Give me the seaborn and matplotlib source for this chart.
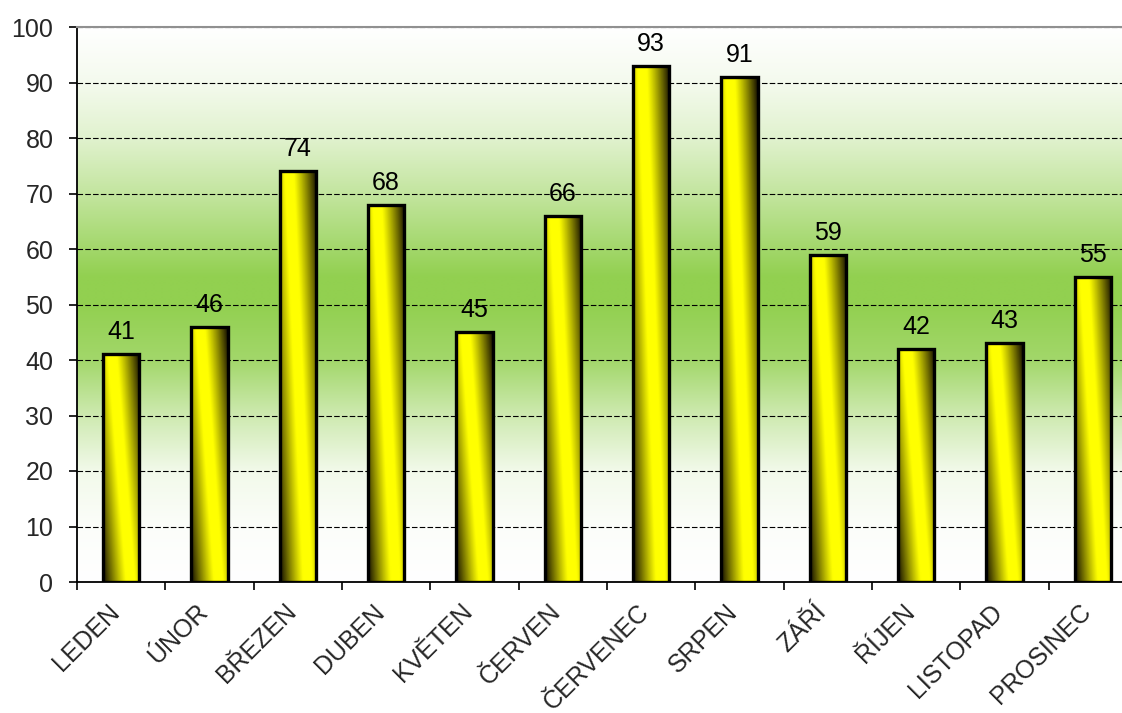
import numpy as np
import pandas as pd
import matplotlib
matplotlib.use("Agg")
import matplotlib.pyplot as plt
import matplotlib.transforms as mtransforms
import seaborn as sns
from matplotlib.colors import to_rgb

months = ["LEDEN", "ÚNOR", "BŘEZEN", "DUBEN", "KVĚTEN", "ČERVEN",
          "ČERVENEC", "SRPEN", "ZÁŘÍ", "ŘÍJEN", "LISTOPAD", "PROSINEC"]
values = [41, 46, 74, 68, 45, 66, 93, 91, 59, 42, 43, 55]
y_ticks = [0, 10, 20, 30, 40, 50, 60, 70, 80, 90, 100]

sns.set_theme(style="white")
plt.rcParams['font.family'] = ['Liberation Sans', 'DejaVu Sans']

fig = plt.figure(figsize=(11.22, 7.13), dpi=100)
ax = fig.add_axes([77/1122, 131/713, 1060/1122, 555/713])

df = pd.DataFrame({"month": months, "value": values})
sns.barplot(data=df, x="month", y="value", ax=ax, color="#ffff00",
            width=0.41, edgecolor="black", linewidth=2.4, saturation=1)

ax.set_xlim(-0.5, len(months) - 0.5)
ax.set_ylim(0, 100)

# background vertical gradient (white - green - white)
green = np.array(to_rgb("#92d050"))
white = np.array([1.0, 1.0, 1.0])
yy = np.linspace(100, 0, 400)
prof_v = [0, 10, 20, 30, 40, 50, 55, 60, 70, 80, 90, 100]
prof_a = [0.0, 0.03, 0.12, 0.45, 0.85, 1.0, 1.0, 0.85, 0.55, 0.28, 0.1, 0.0]
alpha = np.interp(yy, prof_v, prof_a)
bg = white[None, :] * (1 - alpha[:, None]) + green[None, :] * alpha[:, None]
bg = np.repeat(bg[:, None, :], 2, axis=1)
ax.imshow(bg, extent=[-0.5, len(months) - 0.5, 0, 100], aspect="auto",
          zorder=0, interpolation="bilinear")

# gridlines
ax.set_yticks(y_ticks)
ax.yaxis.grid(True, color="black", linestyle=(0, (5, 2)), linewidth=0.8)
ax.set_axisbelow(True)
for gl in ax.get_ygridlines():
    gl.set_zorder(1)

# bar gradients
yellow = np.array([1.0, 1.0, 0.0])
dark = np.array([0.12, 0.10, 0.0])
H, W = 200, 60
u = np.linspace(0, 1, W)[None, :]
v = np.linspace(0, 1, H)[:, None]
c = 0.25 + 0.5 * v
d = np.clip((np.abs(u - c) - 0.12) / 0.6, 0, 1) ** 1.1
grad = yellow[None, None, :] * (1 - d[..., None]) + dark[None, None, :] * d[..., None]
for p in ax.patches:
    x0 = p.get_x(); w = p.get_width(); h = p.get_height()
    im = ax.imshow(grad, extent=[x0, x0 + w, 0, h], aspect="auto",
                   zorder=2.5, interpolation="bilinear")
    im.set_clip_path(p)
    p.set_facecolor("none")
    p.set_zorder(3)

ax.set_xlim(-0.5, len(months) - 0.5)
ax.set_ylim(0, 100)

for i, val in enumerate(values):
    ax.text(i, val + 1.8, str(val), ha="center", va="bottom",
            fontsize=18, color="black", zorder=4)

ax.set_xlabel("")
ax.set_ylabel("")
ax.set_xticks(np.arange(len(months)))
ax.set_xticklabels(months, rotation=45, ha="right", va="top",
                   rotation_mode="anchor", fontsize=18)
ax.tick_params(axis="x", length=0, pad=14)
offset = mtransforms.ScaledTranslation(-14/100, 2/100, fig.dpi_scale_trans)
for lbl in ax.get_xticklabels():
    lbl.set_transform(lbl.get_transform() + offset)
ax.set_xticks(np.arange(len(months) + 1) - 0.5, minor=True)
ax.tick_params(axis="x", which="minor", length=6, width=1.2, color="black",
               direction="out", bottom=True)
ax.tick_params(axis="y", length=6, width=1.2, color="black", direction="out",
               left=True, labelsize=18, pad=11)

for s in ["left", "bottom"]:
    ax.spines[s].set_color("black")
    ax.spines[s].set_linewidth(1.3)
ax.spines["top"].set_color("#909090")
ax.spines["top"].set_linewidth(1.5)
ax.spines["right"].set_visible(False)

fig.savefig("out.png", dpi=100)
